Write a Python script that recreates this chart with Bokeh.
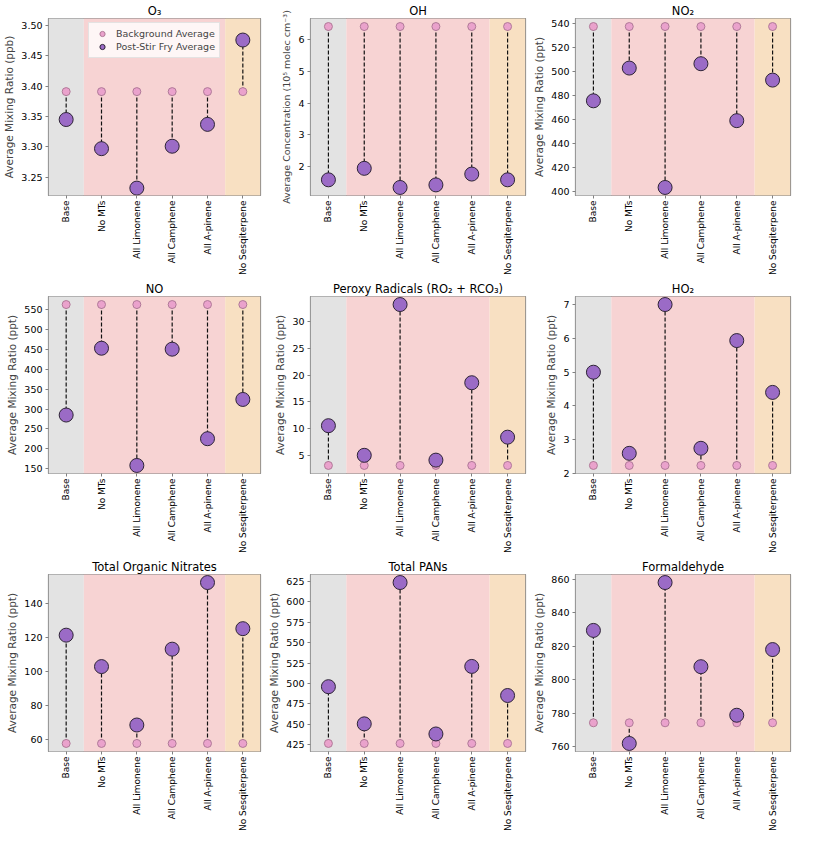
import math
from bokeh.plotting import figure
from bokeh.layouts import gridplot
from bokeh.models import ColumnDataSource, FixedTicker, SingleIntervalTicker, NumeralTickFormatter, Range1d
from bokeh.embed import file_html
from bokeh.resources import INLINE

# ---------------- data ----------------
scenarios = ["Base", "No MTs", "All Limonene", "All Camphene", "All A-pinene", "No Sesqiterpene"]

# scenario groups used for the shaded bands
group_base = ["Base"]
group_mono = ["No MTs", "All Limonene", "All Camphene", "All A-pinene"]
group_sesq = ["No Sesqiterpene"]

o3_background = [3.391, 3.391, 3.391, 3.391, 3.391, 3.391]
o3_post = [3.345, 3.297, 3.232, 3.301, 3.337, 3.476]

oh_background = [6.40, 6.40, 6.40, 6.40, 6.40, 6.40]
oh_post = [1.59, 1.95, 1.35, 1.43, 1.77, 1.59]

no2_background = [537.1, 537.1, 537.1, 537.1, 537.1, 537.1]
no2_post = [475.4, 502.6, 403.4, 506.2, 458.9, 492.6]

no_background = [563.5, 563.5, 563.5, 563.5, 563.5, 563.5]
no_post = [285.0, 453.4, 157.9, 451.0, 225.3, 324.3]

ro2_background = [3.1, 3.1, 3.1, 3.1, 3.1, 3.1]
ro2_post = [10.55, 5.0, 33.25, 4.1, 18.6, 8.4]

ho2_background = [2.23, 2.23, 2.23, 2.23, 2.23, 2.23]
ho2_post = [5.0, 2.59, 7.01, 2.74, 5.94, 4.40]

ton_background = [57.8, 57.8, 57.8, 57.8, 57.8, 57.8]
ton_post = [121.2, 102.8, 68.6, 113.0, 152.0, 125.0]

pans_background = [426.5, 426.5, 426.5, 426.5, 426.5, 426.5]
pans_post = [496.0, 450.5, 623.5, 438.1, 520.8, 485.2]

hcho_background = [774.4, 774.4, 774.4, 774.4, 774.4, 774.4]
hcho_post = [829.4, 762.1, 857.9, 807.8, 778.9, 818.0]

titles = ["O\u2083", "OH", "NO\u2082",
          "NO", "Peroxy Radicals (RO\u2082 + RCO\u2083)", "HO\u2082",
          "Total Organic Nitrates", "Total PANs", "Formaldehyde"]
ylabels = ["Average Mixing Ratio (ppb)",
           "Average Concentration (10\u2075 molec cm\u207b\u00b3)",
           "Average Mixing Ratio (ppt)",
           "Average Mixing Ratio (ppt)",
           "Average Mixing Ratio (ppt)",
           "Average Mixing Ratio (ppt)",
           "Average Mixing Ratio (ppt)",
           "Average Mixing Ratio (ppt)",
           "Average Mixing Ratio (ppt)"]
tick_intervals = [0.05, 1, 20, 50, 5, 1, 20, 25, 20]
tick_formats = ["0.00", "0", "0", "0", "0", "0", "0", "0", "0"]
series = [(o3_background, o3_post), (oh_background, oh_post), (no2_background, no2_post),
          (no_background, no_post), (ro2_background, ro2_post), (ho2_background, ho2_post),
          (ton_background, ton_post), (pans_background, pans_post), (hcho_background, hcho_post)]

# ---------------- style ----------------
FONT = "DejaVu Sans"
band_colors = ["#e3e3e3", "#f7d3d3", "#f8e0c2"]
bg_fill = "#eaa2cc"
bg_line = "#b07a98"
post_fill = "#9b6bc6"
post_line = "#2e2436"
W, H = 265, 278

x_idx = list(range(len(scenarios)))
band_groups = [group_base, group_mono, group_sesq]
band_left = [scenarios.index(g[0]) - 0.5 for g in band_groups]
band_right = [scenarios.index(g[-1]) + 0.5 for g in band_groups]

figs = []
for i, (bg, post) in enumerate(series):
    vals = bg + post
    lo, hi = min(vals), max(vals)
    pad = (hi - lo) * 0.05
    y0, y1 = lo - pad, hi + pad
    if i == 0:
        y1 = 3.5115  # room for legend
    p = figure(width=W, height=H, output_backend="svg", toolbar_location=None,
               x_range=Range1d(-0.5, len(scenarios) - 0.5), y_range=Range1d(y0, y1),
               min_border_left=2, min_border_right=5, min_border_top=2, min_border_bottom=2,
               title=titles[i])
    p.title.align = "center"
    p.title.text_font = FONT
    p.title.text_font_size = "11.5px"
    p.title.text_font_style = "normal"
    p.title.text_color = "#000000"
    p.title.standoff = 2
    p.grid.visible = False
    p.outline_line_color = "#808080"
    p.outline_line_width = 1.2

    # bands
    p.quad(left=band_left, right=band_right, bottom=y0 - 1e6, top=y1 + 1e6,
           fill_color=band_colors, line_color=None, fill_alpha=1.0)

    src = ColumnDataSource(dict(x=x_idx, bg=bg, post=post))
    p.segment(x0="x", y0="bg", x1="x", y1="post", source=src,
              line_color="#111111", line_dash="4 2", line_width=1.2)
    kw_bg = dict(legend_label="Background Average") if i == 0 else {}
    kw_post = dict(legend_label="Post-Stir Fry Average") if i == 0 else {}
    p.scatter(x="x", y="bg", source=src, size=8, fill_color=bg_fill, line_color=bg_line,
              line_width=1, **kw_bg)
    p.scatter(x="x", y="post", source=src, size=14, fill_color=post_fill, line_color=post_line,
              line_width=1, **kw_post)

    # axes
    p.xaxis.ticker = FixedTicker(ticks=x_idx)
    p.xaxis.major_label_overrides = {k: s for k, s in zip(x_idx, scenarios)}
    p.xaxis.major_label_orientation = math.pi / 2
    p.yaxis.ticker = SingleIntervalTicker(interval=tick_intervals[i])
    p.yaxis.formatter = NumeralTickFormatter(format=tick_formats[i])
    p.yaxis.axis_label = ylabels[i]
    p.yaxis.axis_label_text_font = FONT
    p.yaxis.axis_label_text_font_size = "9.5px" if i == 1 else "10.5px"
    p.yaxis.axis_label_text_font_style = "normal"
    p.yaxis.axis_label_standoff = 3
    for ax in (p.xaxis, p.yaxis):
        ax.major_label_text_font = FONT
        ax.major_label_text_color = "#000000"
        ax.axis_line_color = None
        ax.major_tick_line_color = "#808080"
        ax.major_tick_in = 0
        ax.major_tick_out = 3
        ax.minor_tick_line_color = None
        ax.major_label_standoff = 2
    p.xaxis.major_label_text_font_size = "9px"
    p.yaxis.major_label_text_font_size = "9.5px"

    if i == 0:
        lg = p.legend[0]
        lg.location = "top_center"
        lg.margin = 4
        lg.padding = 4
        lg.spacing = 0
        lg.label_text_font = FONT
        lg.label_text_font_size = "9.5px"
        lg.label_height = 12
        lg.glyph_height = 13
        lg.glyph_width = 18
        lg.background_fill_color = "white"
        lg.background_fill_alpha = 0.8
        lg.border_line_color = "#dddddd"
        lg.border_line_alpha = 0.8
    figs.append(p)

grid = gridplot(figs, ncols=3, toolbar_location=None)
open("out.html", "w").write(file_html(grid, INLINE))
